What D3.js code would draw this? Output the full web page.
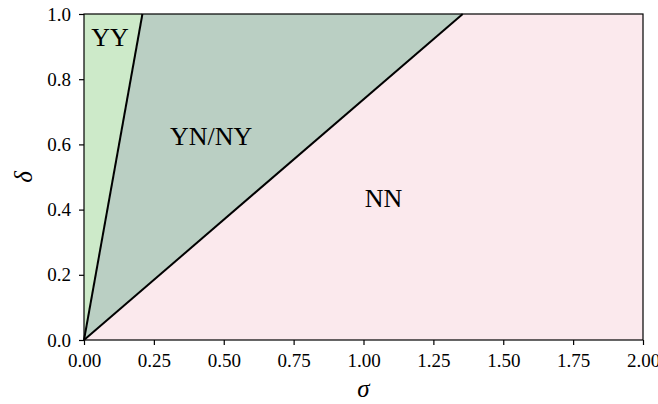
<!DOCTYPE html>
<html>
<head>
<meta charset="utf-8">
<script src="https://cdn.jsdelivr.net/npm/d3@7"></script>
<style>
  body { margin: 0; background: #fff; }
  svg text { font-family: "Liberation Serif", "DejaVu Serif", serif; }
</style>
</head>
<body>
<svg id="chart" width="658" height="404"></svg>
<script>
// boundary lines: delta = 1 reached at these sigma values
var boundaryTop = [0.209, 1.355];
var regionNames = ["YY", "YN/NY", "NN"];
var regionColors = ["#cdeac9", "#bacfc3", "#fbe9ed"];
var labelPos = [[0.093, 0.928], [0.455, 0.625], [1.072, 0.433]];
var xTicks = [0, 0.25, 0.5, 0.75, 1.0, 1.25, 1.5, 1.75, 2.0];
var yTicks = [0, 0.2, 0.4, 0.6, 0.8, 1.0];

var svg = d3.select("#chart");
var mLeft = 84, mRight = 643, mTop = 14, mBottom = 340;
var serif = "'Liberation Serif', 'DejaVu Serif', serif";

var x = d3.scaleLinear().domain([0, 2]).range([mLeft, mRight]);
var y = d3.scaleLinear().domain([0, 1]).range([mBottom, mTop]);

// regions
var polys = [
  [[0, 0], [0, 1], [boundaryTop[0], 1]],
  [[0, 0], [boundaryTop[0], 1], [boundaryTop[1], 1]],
  [[0, 0], [boundaryTop[1], 1], [2, 1], [2, 0]]
];
var line = d3.line().x(d => x(d[0])).y(d => y(d[1]));

svg.selectAll(".region")
  .data(polys)
  .enter().append("path")
    .attr("class", "region")
    .attr("d", d => line(d) + "Z")
    .style("fill", (d, i) => regionColors[i])
    .style("stroke", "none");

svg.selectAll(".bound")
  .data(boundaryTop)
  .enter().append("path")
    .attr("class", "bound")
    .attr("d", d => line([[0, 0], [d, 1]]))
    .style("fill", "none")
    .style("stroke", "#000")
    .style("stroke-width", 2);

svg.selectAll(".rlabel")
  .data(regionNames)
  .enter().append("text")
    .attr("class", "rlabel")
    .attr("x", (d, i) => x(labelPos[i][0]))
    .attr("y", (d, i) => y(labelPos[i][1]))
    .attr("text-anchor", "middle")
    .attr("dy", "0.33em")
    .attr("font-family", serif)
    .attr("font-size", 26)
    .text(d => d);

// axes
var gx = svg.append("g")
    .attr("transform", "translate(0," + mBottom + ")")
    .call(d3.axisBottom(x).tickValues(xTicks).tickFormat(d3.format(".2f")).tickSize(5).tickPadding(9));
gx.select(".domain").remove();
gx.attr("font-family", serif).attr("font-size", 19);
gx.selectAll("text").attr("fill", "#000");
gx.selectAll("line").attr("stroke", "#000").attr("stroke-width", 1.2);

var gy = svg.append("g")
    .attr("transform", "translate(" + mLeft + ",0)")
    .call(d3.axisLeft(y).tickValues(yTicks).tickFormat(d3.format(".1f")).tickSize(5).tickPadding(8));
gy.select(".domain").remove();
gy.attr("font-family", serif).attr("font-size", 19);
gy.selectAll("text").attr("fill", "#000");
gy.selectAll("line").attr("stroke", "#000").attr("stroke-width", 1.2);

// frame
svg.append("rect")
    .attr("x", mLeft).attr("y", mTop)
    .attr("width", mRight - mLeft).attr("height", mBottom - mTop)
    .style("fill", "none")
    .style("stroke", "#000")
    .style("stroke-width", 1.2);

svg.append("text")
    .attr("x", (mLeft + mRight) / 2)
    .attr("y", 397)
    .attr("text-anchor", "middle")
    .attr("font-family", serif)
    .attr("font-size", 25)
    .style("font-style", "italic")
    .text("σ");

svg.append("text")
    .attr("transform", "translate(32," + ((mTop + mBottom) / 2) + ") rotate(-90)")
    .attr("text-anchor", "middle")
    .attr("font-family", serif)
    .attr("font-size", 25)
    .style("font-style", "italic")
    .text("δ");
</script>
</body>
</html>
